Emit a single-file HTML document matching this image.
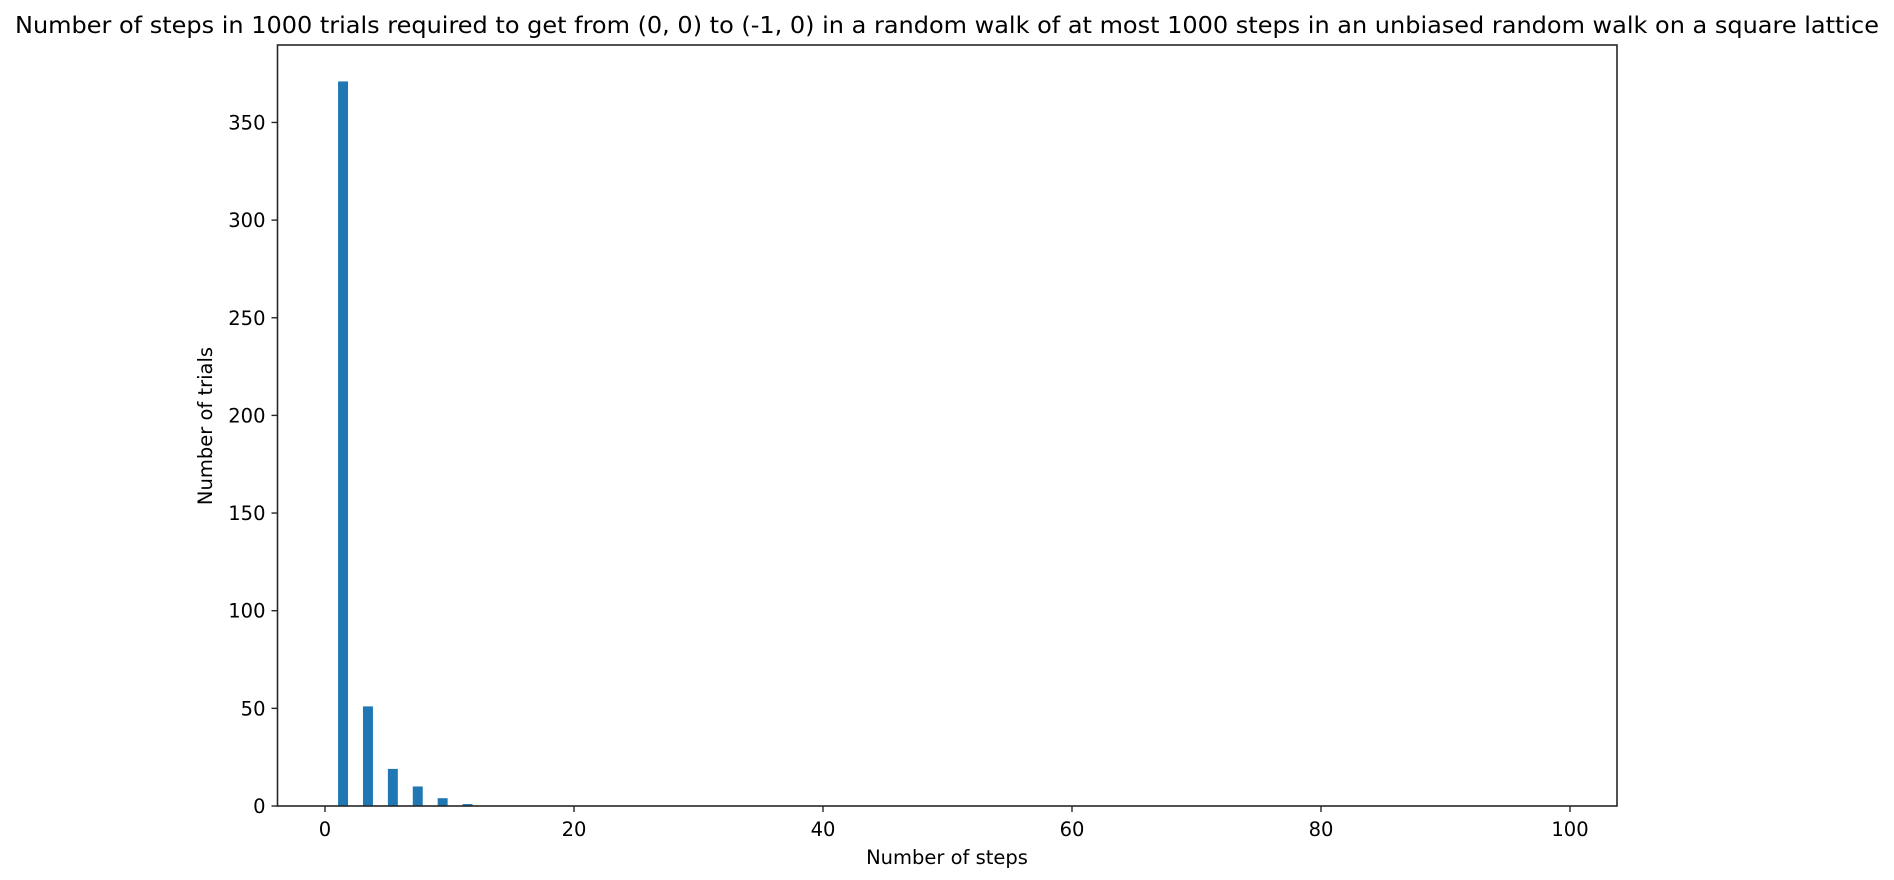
<!DOCTYPE html>
<html><head><meta charset="utf-8"><style>
html,body{margin:0;padding:0;background:#fff;}
svg{display:block;font-family:"DejaVu Sans","Liberation Sans",sans-serif;}
</style></head><body>
<svg id="chart" width="1894" height="880" viewBox="0 0 1894 880">
<rect x="0" y="0" width="1894" height="880" fill="#fff"/>
<text x="947" y="33" font-size="23" text-anchor="middle" textLength="1864" lengthAdjust="spacingAndGlyphs">Number of steps in 1000 trials required to get from (0, 0) to (-1, 0) in a random walk of at most 1000 steps in an unbiased random walk on a square lattice</text>
<g id="bars"></g>
<g id="axes"></g>
<text x="947" y="864" font-size="19.5" text-anchor="middle">Number of steps</text>
<text transform="translate(212,426) rotate(-90)" font-size="19.5" text-anchor="middle">Number of trials</text>
</svg>
<script>
const stepValues = [1, 3, 5, 7, 9, 11];
const trialCounts = [371, 51, 19, 10, 4, 1];
const xTicks = [0, 20, 40, 60, 80, 100];
const yTicks = [0, 50, 100, 150, 200, 250, 300, 350];

const L = 277.5, R = 1617, T = 45, B = 806;
function xs(v){ return 325 + v * 12.45; }
function ys(v){ return B - v * 1.953; }
const NS = "http://www.w3.org/2000/svg";
const bars = document.getElementById('bars');
const axes = document.getElementById('axes');

stepValues.forEach(function(s, i){
  const r = document.createElementNS(NS, 'rect');
  const x0 = xs(s + 0.05), x1 = xs(s + 0.85);
  r.setAttribute('x', x0);
  r.setAttribute('width', x1 - x0);
  r.setAttribute('y', ys(trialCounts[i]));
  r.setAttribute('height', B - ys(trialCounts[i]));
  r.setAttribute('fill', '#1f77b4');
  
  
  bars.appendChild(r);
});

const frame = document.createElementNS(NS, 'rect');
frame.setAttribute('x', L); frame.setAttribute('y', T);
frame.setAttribute('width', R - L); frame.setAttribute('height', B - T);
frame.setAttribute('fill', 'none'); frame.setAttribute('stroke', '#262626'); frame.setAttribute('stroke-width', '1.6');


axes.appendChild(frame);

xTicks.forEach(function(t){
  const x = xs(t);
  const ln = document.createElementNS(NS, 'line');
  ln.setAttribute('x1', x); ln.setAttribute('x2', x);
  ln.setAttribute('y1', B); ln.setAttribute('y2', B + 6);
  ln.setAttribute('stroke', '#262626'); ln.setAttribute('stroke-width', '1.4');
  
  
  axes.appendChild(ln);
  const tx = document.createElementNS(NS, 'text');
  tx.setAttribute('x', x); tx.setAttribute('y', B + 30);
  tx.setAttribute('font-size', '19.5'); tx.setAttribute('text-anchor', 'middle');
  tx.textContent = t;
  
  
  axes.appendChild(tx);
});

yTicks.forEach(function(t){
  const y = ys(t);
  const ln = document.createElementNS(NS, 'line');
  ln.setAttribute('x1', L - 6); ln.setAttribute('x2', L);
  ln.setAttribute('y1', y); ln.setAttribute('y2', y);
  ln.setAttribute('stroke', '#262626'); ln.setAttribute('stroke-width', '1.4');
  
  
  axes.appendChild(ln);
  const tx = document.createElementNS(NS, 'text');
  tx.setAttribute('x', L - 12); tx.setAttribute('y', y + 7);
  tx.setAttribute('font-size', '19.5'); tx.setAttribute('text-anchor', 'end');
  tx.textContent = t;
  
  
  axes.appendChild(tx);
});
</script>
</body></html>
